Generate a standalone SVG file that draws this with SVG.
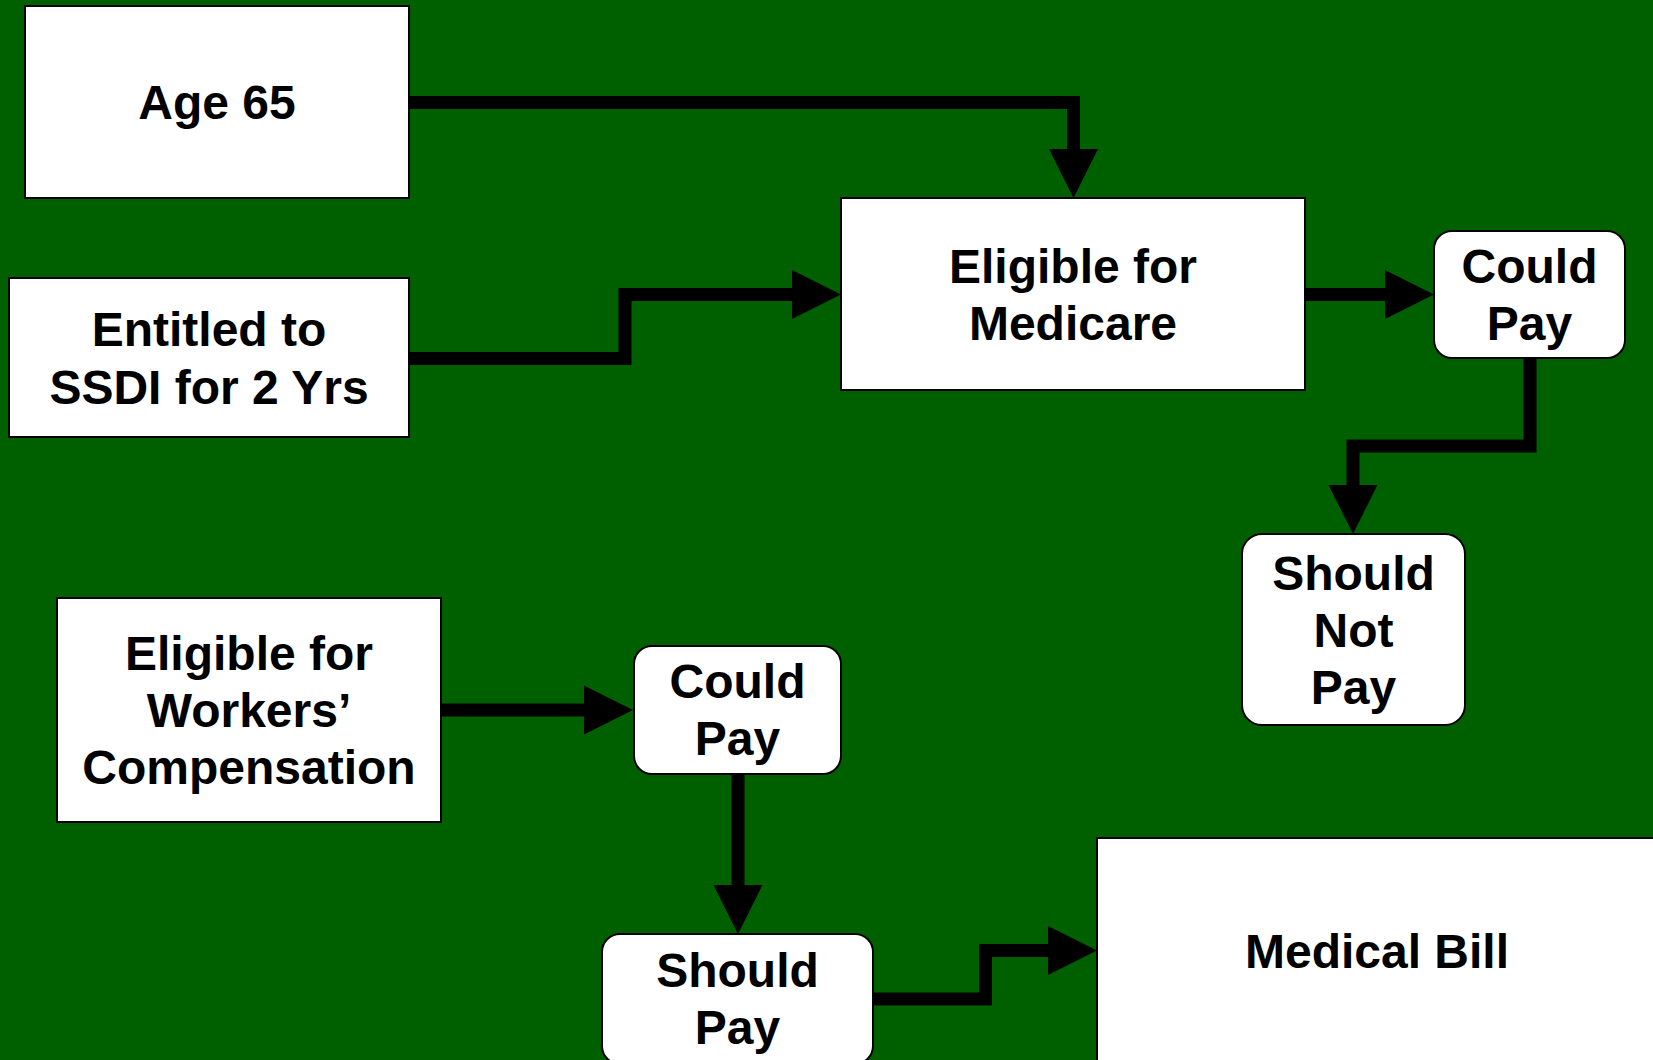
<svg xmlns="http://www.w3.org/2000/svg" width="1653" height="1060" viewBox="0 0 1653 1060">
<defs>
<style>
.box{fill:#ffffff;stroke:#000000;stroke-width:2}
.lbl{font-family:"Liberation Sans",Arial,Helvetica,sans-serif;font-weight:bold;font-size:48px;fill:#000000;text-anchor:middle}
.conn{fill:none;stroke:#000000;stroke-width:13;stroke-linejoin:miter;stroke-linecap:butt;marker-end:url(#arrow)}
</style>
<marker id="arrow" markerUnits="userSpaceOnUse" viewBox="0 -25 50 50" refX="0" refY="0" markerWidth="50" markerHeight="50" orient="auto" overflow="visible">
<path d="M0,-24.5 L49,0 L0,24.5 Z" fill="#000000"/>
</marker>
</defs>
<rect x="0" y="0" width="1653" height="1060" fill="#006000"/>
<g id="connectors">
<path class="conn" d="M409,102.5 H1073.5 V149"/>
<path class="conn" d="M409,358.5 H625 V294.5 H792"/>
<path class="conn" d="M1305,294.5 H1385"/>
<path class="conn" d="M1530,358 V446 H1353 V485"/>
<path class="conn" d="M441,710 H584"/>
<path class="conn" d="M738,774 V885"/>
<path class="conn" d="M873,999 H985.5 V950.5 H1048"/>
</g>
<g id="age65">
<rect class="box" x="25" y="6" width="384" height="192"/>
<text class="lbl" x="217" y="119">Age 65</text>
</g>
<g id="ssdi">
<rect class="box" x="9" y="278" width="400" height="159"/>
<text class="lbl" x="209" y="346">Entitled to</text>
<text class="lbl" x="209" y="404">SSDI for 2 Yrs</text>
</g>
<g id="medicare">
<rect class="box" x="841" y="198" width="464" height="192"/>
<text class="lbl" x="1073" y="283">Eligible for</text>
<text class="lbl" x="1073" y="340">Medicare</text>
</g>
<g id="couldpay1">
<rect class="box" x="1434" y="231" width="191" height="127" rx="18" ry="18"/>
<text class="lbl" x="1529.5" y="283">Could</text>
<text class="lbl" x="1529.5" y="340">Pay</text>
</g>
<g id="shouldnotpay">
<rect class="box" x="1242" y="534" width="223" height="191" rx="20" ry="20"/>
<text class="lbl" x="1353.5" y="590">Should</text>
<text class="lbl" x="1353.5" y="647">Not</text>
<text class="lbl" x="1353.5" y="704">Pay</text>
</g>
<g id="workers">
<rect class="box" x="57" y="598" width="384" height="224"/>
<text class="lbl" x="249" y="670">Eligible for</text>
<text class="lbl" x="249" y="727">Workers’</text>
<text class="lbl" x="249" y="784">Compensation</text>
</g>
<g id="couldpay2">
<rect class="box" x="634" y="646" width="207" height="128" rx="18" ry="18"/>
<text class="lbl" x="737.5" y="698">Could</text>
<text class="lbl" x="737.5" y="755">Pay</text>
</g>
<g id="shouldpay">
<rect class="box" x="602" y="934" width="271" height="130" rx="18" ry="18"/>
<text class="lbl" x="737.5" y="987">Should</text>
<text class="lbl" x="737.5" y="1044">Pay</text>
</g>
<g id="medicalbill">
<rect class="box" x="1097" y="838" width="562" height="228"/>
<text class="lbl" x="1377" y="968">Medical Bill</text>
</g>
</svg>
